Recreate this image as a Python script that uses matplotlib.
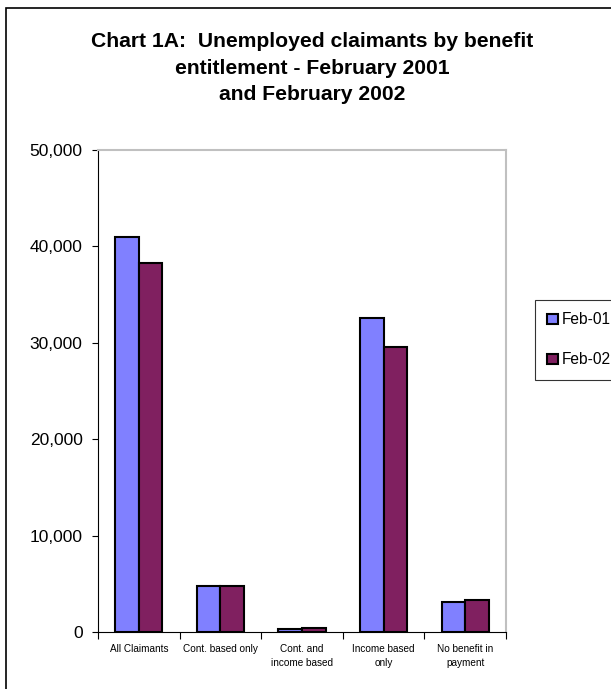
import matplotlib
matplotlib.use("Agg")
import matplotlib.pyplot as plt
import numpy as np
from matplotlib.patches import Rectangle

plt.rcParams['font.family'] = ['Liberation Sans', 'DejaVu Sans']

categories = ["All Claimants", "Cont. based only", "Cont. and\nincome based",
              "Income based\nonly", "No benefit in\npayment"]
feb01 = [41000, 4800, 350, 32600, 3150]
feb02 = [38300, 4800, 450, 29600, 3300]
series_names = ["Feb-01", "Feb-02"]
colors = ["#8080FF", "#802060"]
yticks = [0, 10000, 20000, 30000, 40000, 50000]

W, H = 611, 689
fig = plt.figure(figsize=(W / 100, H / 100), dpi=100)

# outer chart border
fig.patches.append(Rectangle((6 / W, -0.1), 1.2, 1 - 8 / H + 0.1, transform=fig.transFigure,
                             fill=False, edgecolor="black", linewidth=1.2, zorder=0))

ax = fig.add_axes([98 / W, 1 - 632 / H, (506 - 98) / W, (632 - 150) / H])
x = np.arange(len(categories))
bw = 0.29
b1 = ax.bar(x - bw / 2, feb01, bw, color=colors[0], edgecolor="black", linewidth=1.5, label=series_names[0])
b2 = ax.bar(x + bw / 2, feb02, bw, color=colors[1], edgecolor="black", linewidth=1.5, label=series_names[1])

ax.set_xlim(-0.5, len(categories) - 0.5)
ax.set_ylim(0, 50000)
ax.set_yticks(yticks)
ax.set_yticklabels([f"{v:,}" for v in yticks], fontsize=12.5)
ax.set_xticks(x)
ax.set_xticklabels(categories, fontsize=7.2, linespacing=1.5)
ax.tick_params(axis='x', length=0, pad=9)
ax.set_xticks(np.arange(-0.5, len(categories), 1), minor=True)
ax.tick_params(axis='x', which='minor', length=5, direction='out', width=0.8)
ax.tick_params(axis='y', length=4, direction='out', width=0.8, pad=7)

for side in ['top', 'right']:
    ax.spines[side].set_color('#c0c0c0')
    ax.spines[side].set_linewidth(1.5)
ax.spines['left'].set_linewidth(0.8)
ax.spines['bottom'].set_linewidth(0.8)

fig.text(312 / W, 1 - 68 / H,
         "Chart 1A:  Unemployed claimants by benefit\nentitlement - February 2001\nand February 2002",
         ha='center', va='center', fontsize=15.2, fontweight='bold', linespacing=1.5)

leg = fig.legend(handles=[b1, b2], labels=series_names, loc='upper left',
                 bbox_to_anchor=(535 / W, 1 - 300 / H), frameon=True, fancybox=False,
                 edgecolor='black', fontsize=11.2, handlelength=0.65, handleheight=0.65,
                 handletextpad=0.25, labelspacing=1.6, borderpad=0.8, borderaxespad=0)
leg.get_frame().set_linewidth(0.8)

fig.savefig("out.png", dpi=100)
